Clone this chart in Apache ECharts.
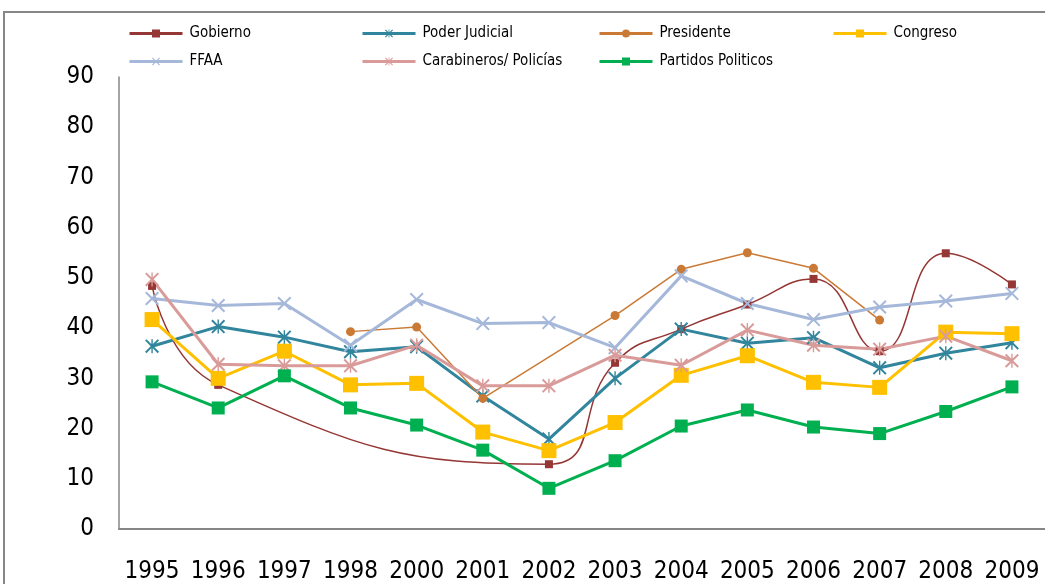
<!DOCTYPE html>
<html>
<head>
<meta charset="utf-8">
<script src="https://cdn.jsdelivr.net/npm/echarts@6/dist/echarts.min.js"></script>
<style>
  html, body { margin: 0; padding: 0; background: #fff; }
  #chart { width: 1045px; height: 584px; }
</style>
</head>
<body>
<div id="chart"></div>
<script>
// Confianza en instituciones, 1995-2009 (%)
var years = ['1995','1996','1997','1998','2000','2001','2002','2003','2004','2005','2006','2007','2008','2009'];
var yTicks = [0, 10, 20, 30, 40, 50, 60, 70, 80, 90];

var gobierno      = [48.4, 28.7, null, null, null, null, 12.9, 33.1, 39.8, 44.7, 49.8, 35.4, 54.9, 48.7];
var poderJudicial = [36.4, 40.3, 38.2, 35.3, 36.3, 26.5, 17.9, 30.0, 39.8, 37.0, 38.1, 32.1, 35.0, 37.1];
var presidente    = [null, null, null, 39.3, 40.2, 26.0, null, 42.5, 51.7, 55.0, 51.9, 41.6, null, null];
var congreso      = [41.7, 30.0, 35.4, 28.7, 29.0, 19.3, 15.6, 21.2, 30.6, 34.5, 29.2, 28.2, 39.2, 38.9];
var ffaa          = [45.9, 44.5, 44.9, 36.6, 45.7, 40.9, 41.1, 36.1, 50.4, 44.9, 41.7, 44.2, 45.4, 46.9];
var carabineros   = [49.7, 32.8, 32.5, 32.5, 36.6, 28.5, 28.5, 34.6, 32.6, 39.6, 36.6, 35.8, 38.4, 33.5];
var partidos      = [29.3, 24.1, 30.5, 24.1, 20.7, 15.7, 8.1, 13.6, 20.5, 23.7, 20.3, 19.0, 23.4, 28.3];

var FONT = '"Liberation Sans Narrow", "DejaVu Sans Condensed", "Liberation Sans", sans-serif';

// marker shapes
var xMark = 'path://M2,0 L10,8 L18,0 L20,2 L12,10 L20,18 L18,20 L10,12 L2,20 L0,18 L8,10 L0,2 Z';
var starMark = xMark + ' M9,0 L11,0 L11,20 L9,20 Z';

function lineSeries(name, data, color, width, symbol, size, smooth) {
  return {
    name: name,
    type: 'line',
    data: data,
    connectNulls: true,
    smooth: smooth ? 0.5 : false,
    symbol: symbol,
    symbolSize: size,
    showAllSymbol: true,
    lineStyle: { color: color, width: width },
    itemStyle: { color: color, borderWidth: 0 },
    emphasis: { disabled: true },
    z: 2
  };
}

var series = [
  lineSeries('Gobierno', gobierno, '#953735', 1.5, 'rect', 8, true),
  lineSeries('Poder Judicial', poderJudicial, '#31859C', 3, starMark, 14, false),
  lineSeries('Presidente', presidente, '#CB7A36', 1.5, 'circle', 9, false),
  lineSeries('Congreso', congreso, '#FFC000', 3, 'rect', 15, false),
  lineSeries('FFAA', ffaa, '#A6B8DA', 3, xMark, 14, false),
  lineSeries('Carabineros/ Policías', carabineros, '#D99B99', 3, starMark, 14, false),
  lineSeries('Partidos Politicos', partidos, '#00B050', 3, 'rect', 13, false)
];

var legendPos = [
  ['Gobierno', 128, 26], ['Poder Judicial', 361, 26], ['Presidente', 598, 26], ['Congreso', 832, 26],
  ['FFAA', 128, 54], ['Carabineros/ Policías', 361, 54], ['Partidos Politicos', 598, 54]
];
var legends = legendPos.map(function (p) {
  return {
    data: [p[0]],
    left: p[1],
    top: p[2],
    padding: 0,
    itemWidth: 53,
    itemHeight: 10,
    selectedMode: false,
    lineStyle: { width: 3 },
    textStyle: { fontFamily: FONT, fontSize: 15, color: '#000', padding: [0, 0, 0, 2] }
  };
});

var chart = echarts.init(document.getElementById('chart'), null, { renderer: 'canvas' });
chart.setOption({
  animation: false,
  backgroundColor: '#fff',
  legend: legends,
  graphic: [{
    type: 'rect',
    shape: { x: 4, y: 12, width: 1060, height: 600 },
    style: { fill: null, stroke: '#868686', lineWidth: 2 },
    silent: true,
    z: 0
  }],
  grid: { left: 119, top: 77, width: 930, bottom: 54 },
  xAxis: {
    type: 'category',
    data: years,
    boundaryGap: true,
    axisLine: { lineStyle: { color: '#868686', width: 2 } },
    axisTick: { show: false },
    axisLabel: { fontFamily: FONT, fontSize: 24, color: '#000', margin: 31, interval: 0 },
    splitLine: { show: false }
  },
  yAxis: {
    type: 'value',
    min: yTicks[0],
    max: yTicks[yTicks.length - 1],
    interval: 10,
    axisLine: { show: true, lineStyle: { color: '#868686', width: 1.5 } },
    axisTick: { show: false },
    axisLabel: { fontFamily: FONT, fontSize: 24, color: '#000', margin: 25 },
    splitLine: { show: false }
  },
  series: series
});
</script>
</body>
</html>
